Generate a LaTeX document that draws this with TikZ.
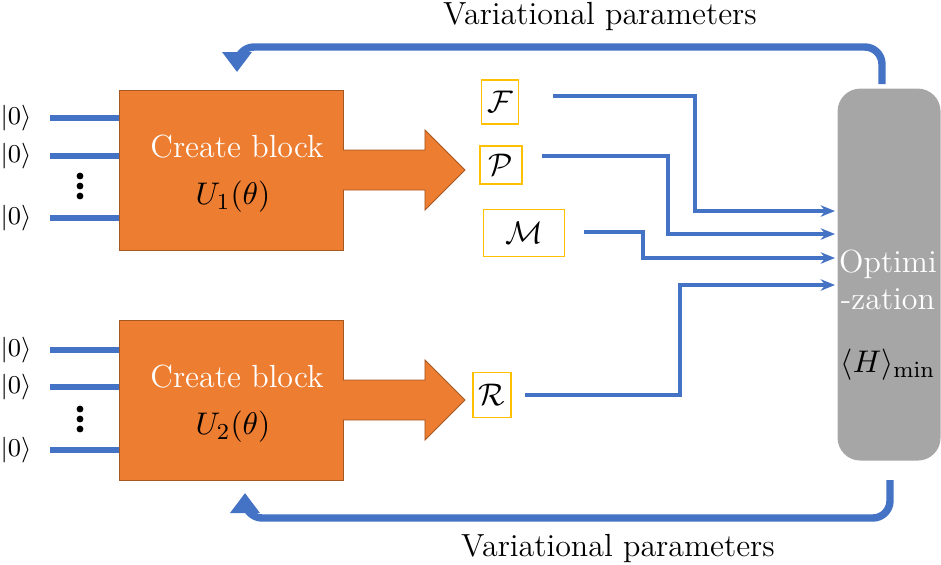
\documentclass[tikz,border=0pt]{standalone}
\usepackage{amsmath}
\usetikzlibrary{arrows.meta}
\definecolor{bl}{HTML}{4472C4}
\definecolor{org}{HTML}{ED7D31}
\definecolor{gr}{HTML}{A6A6A6}
\definecolor{yl}{HTML}{FFC000}
\begin{document}
\begin{tikzpicture}[x=0.35pt,y=-0.35pt,font=\fontsize{11.2}{13}\selectfont,
 big/.style={draw=bl,line width=2.6pt,rounded corners=6pt},
 thin/.style={draw=bl,line width=1.3pt,-{Stealth[length=5pt,width=4pt]}},
 inl/.style={draw=bl,line width=2pt},
 lab/.style={draw=yl,fill=white,inner sep=2pt},
 ket/.style={font=\fontsize{9.5}{10}\selectfont,inner sep=0pt},
 blk/.style={fill=org,draw=org!70!black,line width=0.3pt}]
\useasboundingbox (0,0) rectangle (941,564);
% optimization
\node[fill=gr,rounded corners=8pt,minimum width=103*0.35pt,minimum height=372*0.35pt,anchor=north west] (opt) at (837,88) {};
\node[white,align=center] (ot) at (888,280) {Optimi\\-zation};
\node (hm) at (888,365) {$\langle H\rangle_{\min}$};
% feedback arrows
\coordinate (t0) at (882,84); \coordinate (t1) at (237,72);
\draw[big,-{Triangle[length=7pt,width=10pt]}] (t0) -- (882,47) -- (237,47) -- (t1);
\coordinate (b0) at (890,480); \coordinate (b1) at (245,493);
\draw[big,-{Triangle[length=7pt,width=10pt]}] (b0) -- (890,518) -- (245,518) -- (b1);
\node (v1) at (600,16) {Variational parameters};
\node (v2) at (618,548) {Variational parameters};
% blocks
\foreach \o/\k in {0/1,230/2}{
 \draw[blk] (119,90+\o) rectangle (343,250+\o);
 \draw[blk] (343,150+\o) -- (425,150+\o) -- (425,130+\o) -- (465,170+\o) -- (425,210+\o) -- (425,190+\o) -- (343,190+\o);
 \fill[org] (340,151+\o) rectangle (345,189+\o);
 \node[white] (cb\k) at (237,147+\o) {Create block};
 \node (u\k) at (233,197+\o) {$U_{\k}(\theta)$};
}
% inputs
\foreach \y/\n in {118/a,156/b,218/c,350/d,387/e,450/f}{
 \node[ket] (k\n) at (16,\y) {$|0\rangle$};
 \draw[inl] (50,\y) -- (119,\y);
}
\foreach \y in {176,186,196,409,419,429}{\fill (80,\y) circle (1.2pt);}
% labels
\node[lab,minimum width=34*0.35pt,minimum height=44*0.35pt] (F) at (500,102) {$\mathcal{F}$};
\node[lab,minimum width=42*0.35pt,minimum height=38*0.35pt] (P) at (501,165) {$\mathcal{P}$};
\node[lab,minimum width=81*0.35pt,minimum height=47*0.35pt] (M) at (524,233) {$\mathcal{M}$};
\node[lab,minimum width=33*0.35pt,minimum height=45*0.35pt] (R) at (492,395) {$\mathcal{R}$};
\coordinate (ia) at (835,211); \coordinate (ib) at (835,234);
\coordinate (ic) at (835,258); \coordinate (id) at (835,285);
\draw[thin] (553,96) -- (695,96) -- (695,211) -- (ia);
\draw[thin] (542,156) -- (668,156) -- (668,234) -- (ib);
\draw[thin] (584,232) -- (643,232) -- (643,258) -- (ic);
\draw[thin] (525,395) -- (680,395) -- (680,285) -- (id);
\end{tikzpicture}
\end{document}
